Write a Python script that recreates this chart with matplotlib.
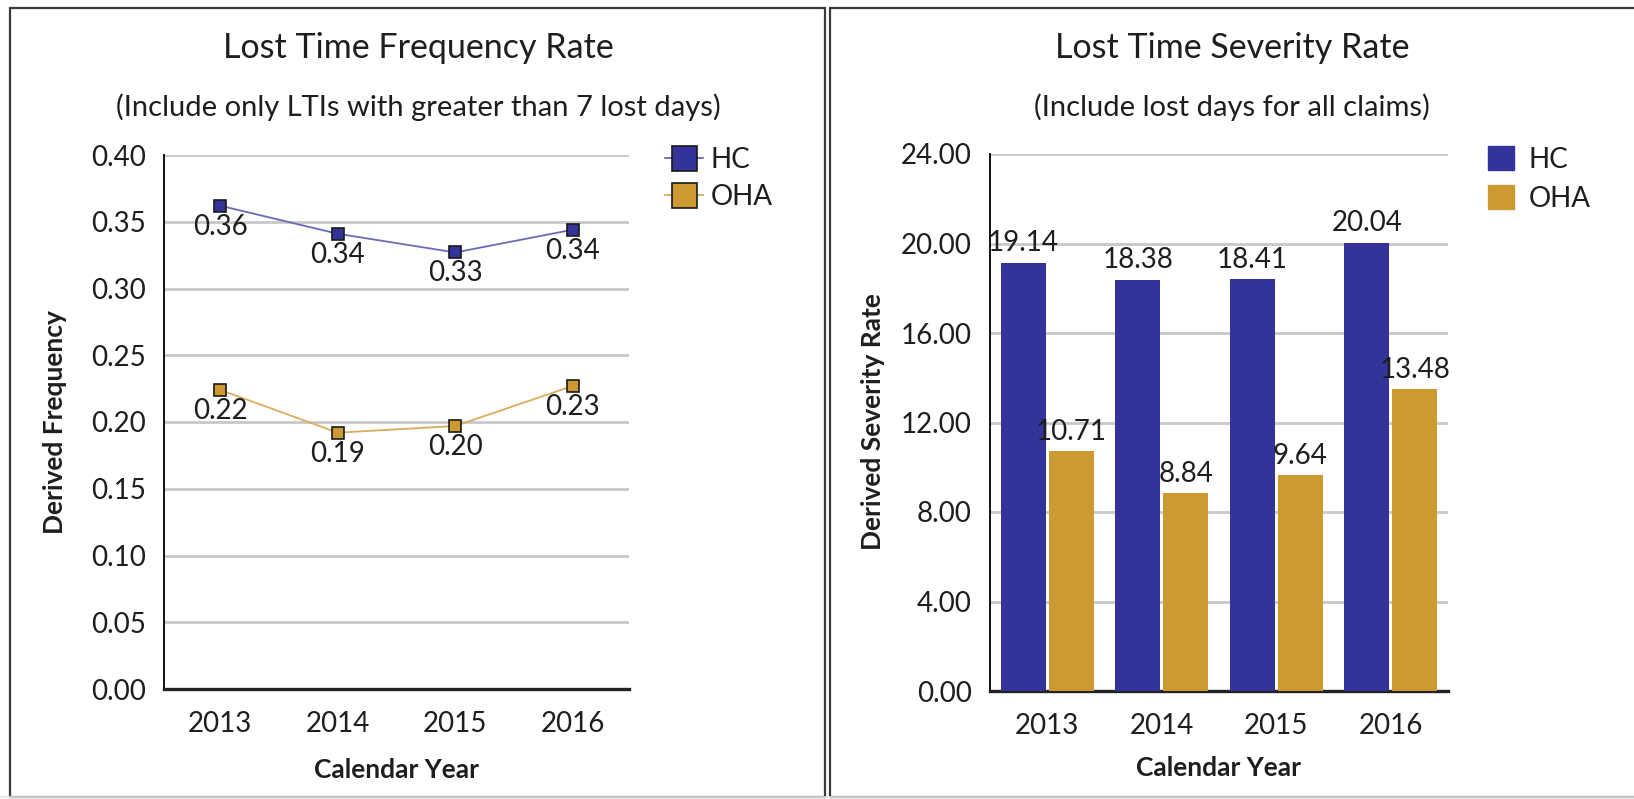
import matplotlib
matplotlib.use("Agg")
import matplotlib.pyplot as plt
from matplotlib.lines import Line2D
from matplotlib.patches import Patch, Rectangle
import numpy as np

# ---- data ----
years = ["2013", "2014", "2015", "2016"]
freq_hc = [0.362, 0.341, 0.327, 0.344]
freq_oha = [0.224, 0.192, 0.197, 0.227]
sev_hc = [19.14, 18.38, 18.41, 20.04]
sev_oha = [10.71, 8.84, 9.64, 13.48]
freq_ticks = [0.00, 0.05, 0.10, 0.15, 0.20, 0.25, 0.30, 0.35, 0.40]
sev_ticks = [0.0, 4.0, 8.0, 12.0, 16.0, 20.0, 24.0]

HC_COLOR = "#333399"
OHA_COLOR = "#cc9933"
HC_LINE = "#6a6ab8"
OHA_LINE = "#d9ad5c"
TXT = "#1e1e1e"
GRID = "#c8c8c8"

plt.rcParams["font.family"] = ["Lato", "DejaVu Sans"]

W, H = 1634, 799
fig = plt.figure(figsize=(W / 100, H / 100), dpi=100)
fig.patch.set_facecolor("white")


def fx(x):
    return x / W


def fy(y):
    return 1 - y / H


def add_axes_px(x0, y0, x1, y1):
    return fig.add_axes([fx(x0), fy(y1), (x1 - x0) / W, (y1 - y0) / H])


# ---- panel borders ----
for (x0, y0, x1, y1) in [(10, 8, 825, 797), (830, 8, 1640, 797)]:
    fig.add_artist(Rectangle((fx(x0), fy(y1)), (x1 - x0) / W, (y1 - y0) / H,
                             transform=fig.transFigure, fill=False,
                             edgecolor="#3a3a3a", linewidth=1.6))
fig.add_artist(Line2D([0, 1], [fy(797), fy(797)], transform=fig.transFigure,
                      color="#e4e4e4", linewidth=1.2))

TICK_FS = 20
LBL_FS = 19
x = np.arange(len(years))


def style_axes(ax):
    for s in ["top", "right"]:
        ax.spines[s].set_visible(False)
    ax.spines["left"].set_color("#111111")
    ax.spines["left"].set_linewidth(1.4)
    ax.spines["bottom"].set_color("#222222")
    ax.spines["bottom"].set_linewidth(2.4)
    ax.tick_params(axis="y", length=0, pad=13, labelsize=TICK_FS, labelcolor=TXT)
    ax.tick_params(axis="x", length=0, pad=16, labelsize=TICK_FS, labelcolor=TXT)
    ax.grid(axis="y", color=GRID, linewidth=2)
    ax.set_axisbelow(True)
    ax.set_xticks(x)
    ax.set_xticklabels(years)


# ---- left: frequency line chart ----
ax1 = add_axes_px(164, 155, 629, 689)
style_axes(ax1)
ax1.set_ylim(0, 0.40)
ax1.set_yticks(freq_ticks)
ax1.set_yticklabels([f"{t:.2f}" for t in freq_ticks])
ax1.set_xlim(-0.48, 3.48)
ax1.plot(x, freq_hc, color=HC_LINE, lw=1.3, marker="s", markersize=9,
         markerfacecolor=HC_COLOR, markeredgecolor="#1a1a1a", markeredgewidth=1.2,
         label="HC", zorder=3)
ax1.plot(x, freq_oha, color=OHA_LINE, lw=1.3, marker="s", markersize=9,
         markerfacecolor=OHA_COLOR, markeredgecolor="#1a1a1a", markeredgewidth=1.2,
         label="OHA", zorder=3)
for xi, v in zip(x, freq_hc):
    ax1.annotate(f"{v:.2f}", (xi, v), xytext=(0, -15), textcoords="offset points",
                 ha="center", va="center", fontsize=TICK_FS, color=TXT, zorder=4)
for xi, v in zip(x, freq_oha):
    ax1.annotate(f"{v:.2f}", (xi, v), xytext=(0, -15), textcoords="offset points",
                 ha="center", va="center", fontsize=TICK_FS, color=TXT, zorder=4)

ax1.legend(loc="upper left", bbox_to_anchor=(fx(665), fy(147)),
           bbox_transform=fig.transFigure, frameon=False, fontsize=TICK_FS,
           markerscale=2.0, handlelength=1.35, handletextpad=0.3,
           labelspacing=0.4, borderpad=0, borderaxespad=0, labelcolor=TXT)

fig.text(fx(418), fy(48), "Lost Time Frequency Rate", ha="center", va="center",
         fontsize=24.5, color=TXT)
fig.text(fx(418), fy(107), "(Include only LTIs with greater than 7 lost days)",
         ha="center", va="center", fontsize=21, color=TXT)
fig.text(fx(55), fy(422), "Derived Frequency", rotation=90, ha="center",
         va="center", fontsize=LBL_FS, fontweight="bold", color=TXT)
fig.text(fx(396), fy(770), "Calendar Year", ha="center", va="center",
         fontsize=LBL_FS, fontweight="bold", color=TXT)

# ---- right: severity bar chart ----
ax2 = add_axes_px(990, 154, 1448, 691)
style_axes(ax2)
ax2.set_ylim(0, 24)
ax2.set_yticks(sev_ticks)
ax2.set_yticklabels([f"{t:.2f}" for t in sev_ticks])
ax2.set_xlim(-0.5, 3.5)
bw = 0.39
ax2.bar(x - 0.21, sev_hc, bw, color=HC_COLOR, label="HC", zorder=3)
ax2.bar(x + 0.21, sev_oha, bw, color=OHA_COLOR, label="OHA", zorder=3)
for xi, v in zip(x - 0.21, sev_hc):
    ax2.annotate(f"{v:.2f}", (xi, v), xytext=(0, 14), textcoords="offset points",
                 ha="center", va="center", fontsize=TICK_FS, color=TXT, zorder=4)
for xi, v in zip(x + 0.21, sev_oha):
    ax2.annotate(f"{v:.2f}", (xi, v), xytext=(0, 14), textcoords="offset points",
                 ha="center", va="center", fontsize=TICK_FS, color=TXT, zorder=4)

ax2.legend(handles=[Patch(color=HC_COLOR, label="HC"),
                    Patch(color=OHA_COLOR, label="OHA")],
           loc="upper left", bbox_to_anchor=(fx(1488), fy(146)),
           bbox_transform=fig.transFigure, frameon=False, fontsize=TICK_FS,
           handlelength=0.95, handleheight=0.95, handletextpad=0.5,
           labelspacing=0.45, borderpad=0, borderaxespad=0, labelcolor=TXT)

fig.text(fx(1232), fy(48), "Lost Time Severity Rate", ha="center", va="center",
         fontsize=24.5, color=TXT)
fig.text(fx(1232), fy(107), "(Include lost days for all claims)",
         ha="center", va="center", fontsize=21, color=TXT)
fig.text(fx(873), fy(422), "Derived Severity Rate", rotation=90, ha="center",
         va="center", fontsize=LBL_FS, fontweight="bold", color=TXT)
fig.text(fx(1219), fy(768), "Calendar Year", ha="center", va="center",
         fontsize=LBL_FS, fontweight="bold", color=TXT)

fig.savefig("out.png", dpi=100, facecolor="white")
